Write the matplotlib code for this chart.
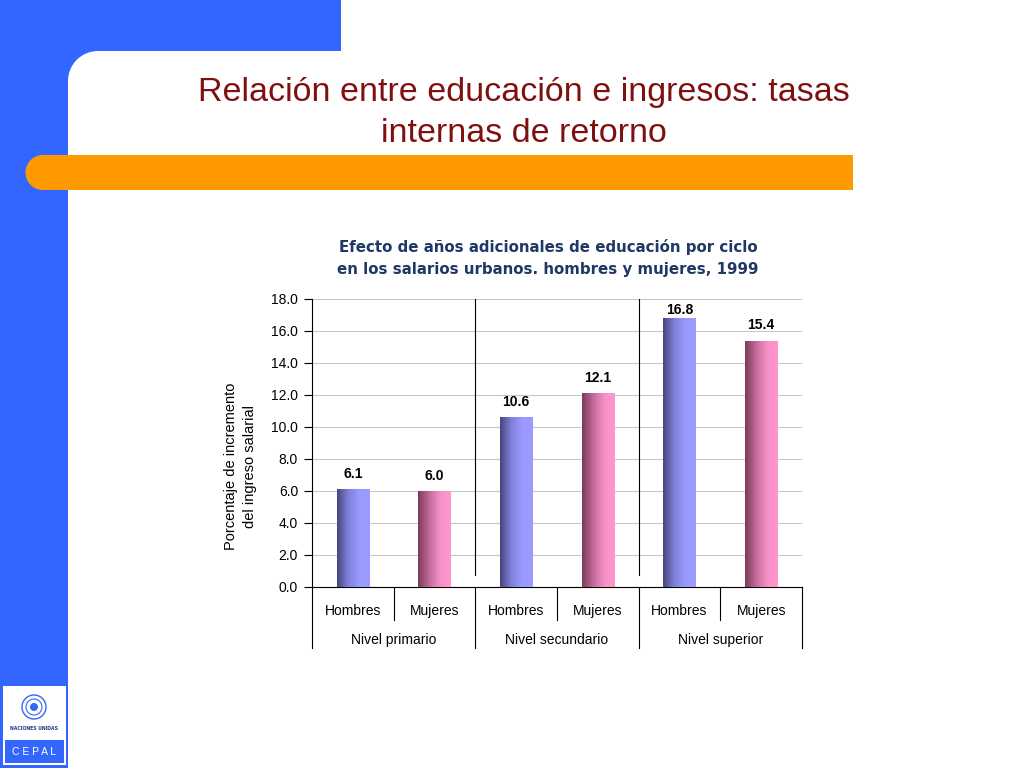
import matplotlib
matplotlib.use("Agg")
import matplotlib.pyplot as plt
import matplotlib.patches as patches
from matplotlib.colors import LinearSegmentedColormap
import numpy as np

# datos del grafico
sexos = ["Hombres", "Mujeres", "Hombres", "Mujeres", "Hombres", "Mujeres"]
niveles = ["Nivel primario", "Nivel secundario", "Nivel superior"]
valores = [6.1, 6.0, 10.6, 12.1, 16.8, 15.4]
y_ticks = [0, 2, 4, 6, 8, 10, 12, 14, 16, 18]

titulo = ["Relación entre educación e ingresos: tasas", "internas de retorno"]
titulo_grafico = ["Efecto de años adicionales de educación por ciclo",
                  "en los salarios urbanos. hombres y mujeres, 1999"]
etiqueta_y = "Porcentaje de incremento\ndel ingreso salarial"

AZUL = "#3366FF"
NARANJA = "#FF9900"

fig = plt.figure(figsize=(10.24, 7.68), dpi=100)

# fondo de la diapositiva (coordenadas en pixeles)
bg = fig.add_axes([0, 0, 1, 1])
bg.set_xlim(0, 1024)
bg.set_ylim(768, 0)
bg.axis("off")
bg.add_patch(patches.Rectangle((0, 0), 68, 768, color=AZUL, lw=0))
bg.add_patch(patches.Rectangle((0, 0), 341, 51, color=AZUL, lw=0))
bg.add_patch(patches.Rectangle((68, 51), 30, 30, color=AZUL, lw=0))
bg.add_patch(patches.Circle((98, 81), 30, color="white", lw=0))
# barra naranja
bg.add_patch(patches.Rectangle((43, 155), 810, 35, color=NARANJA, lw=0))
bg.add_patch(patches.Circle((43, 172.5), 17.5, color=NARANJA, lw=0))

# logo CEPAL (aproximado)
bg.add_patch(patches.Rectangle((3, 686), 63, 79, color="white", lw=0))
bg.add_patch(patches.Rectangle((5, 740), 59, 23, color=AZUL, lw=0))
bg.add_patch(patches.Circle((34, 707), 12, fill=False, ec=AZUL, lw=1.0))
bg.add_patch(patches.Circle((34, 707), 8, fill=False, ec=AZUL, lw=0.8))
bg.add_patch(patches.Circle((34, 707), 4, color=AZUL, lw=0))
bg.text(34, 729, "NACIONES UNIDAS", fontsize=3.3, color="#1F3C88",
        ha="center", va="center", fontweight="bold")
bg.text(34, 752, "C E P A L", fontsize=7.5, color="white",
        ha="center", va="center", family="Liberation Sans")

for k, linea in enumerate(titulo):
    bg.text(524, 93 + 40 * k, linea, fontsize=24.5, color="#7F1010", ha="center",
            va="center", family="Liberation Sans")

# grafico de barras
ax = fig.add_axes([312 / 1024, 1 - 587 / 768, 490 / 1024, 288 / 768])
x = np.arange(len(valores))
ax.set_xlim(-0.5, len(valores) - 0.5)
ax.set_ylim(0, 18)

cm_h = LinearSegmentedColormap.from_list("h", ["#45457F", "#7F7FD8", "#9999FF", "#9C9CFF"])
cm_m = LinearSegmentedColormap.from_list("m", ["#7A3A5A", "#C06A98", "#F58FC6", "#FF99CC"])
grad = np.linspace(0, 1, 256).reshape(1, -1)

bars = ax.bar(x, valores, width=0.4, color="none", lw=0, zorder=3)
for i, b in enumerate(bars):
    cmap = cm_h if i % 2 == 0 else cm_m
    im = ax.imshow(grad, cmap=cmap, aspect="auto", zorder=3,
                   extent=(b.get_x(), b.get_x() + b.get_width(), 0, b.get_height()))
    im.set_clip_path(b)
    y_lab = min(b.get_height() + 0.95, 17.3)
    ax.text(b.get_x() + b.get_width() / 2, y_lab, f"{valores[i]:.1f}",
            ha="center", va="center", fontsize=10, fontweight="bold",
            family="Liberation Sans", zorder=5)

ax.set_xlim(-0.5, len(valores) - 0.5)
ax.set_ylim(0, 18)
ax.set_yticks(y_ticks)
ax.set_yticklabels([f"{v:.1f}" for v in y_ticks], family="Liberation Sans", fontsize=10)
ax.tick_params(axis="y", length=6, width=0.8, pad=4)
ax.set_xticks([])
ax.grid(axis="y", color="#C8C8C8", lw=0.8, zorder=0)
ax.set_axisbelow(True)
for s in ["top", "right"]:
    ax.spines[s].set_visible(False)
ax.spines["left"].set_linewidth(0.8)
ax.spines["bottom"].set_linewidth(0.8)

trans = ax.get_xaxis_transform()
# separadores de niveles dentro del grafico
for xs in [1.5, 3.5]:
    ax.plot([xs, xs], [0.042, 1.0], transform=trans, color="black", lw=0.8, zorder=4)
# tabla de categorias debajo del eje
for xs in [0.5, 2.5, 4.5]:
    ax.plot([xs, xs], [0, -0.115], transform=trans, color="black", lw=0.8, clip_on=False)
for xs in [-0.5, 1.5, 3.5, 5.5]:
    ax.plot([xs, xs], [0, -0.212], transform=trans, color="black", lw=0.8, clip_on=False)
for i, s in enumerate(sexos):
    ax.text(i, -0.085, s, transform=trans, ha="center", va="center",
            fontsize=10, family="Liberation Sans")
for j, n in enumerate(niveles):
    ax.text(2 * j + 0.5, -0.185, n, transform=trans, ha="center", va="center",
            fontsize=10, family="Liberation Sans")

ax.set_ylabel(etiqueta_y, family="Liberation Sans", fontsize=10.5, linespacing=1.45,
              va="center", ha="center")
ax.yaxis.set_label_coords(-0.145, 0.42)

for k, linea in enumerate(titulo_grafico):
    fig.text(548 / 1024, 1 - (247 + 22 * k) / 768, linea, ha="center", va="center",
             fontsize=10.8, fontweight="bold", color="#1F3864")

fig.savefig("out.png", dpi=100)
